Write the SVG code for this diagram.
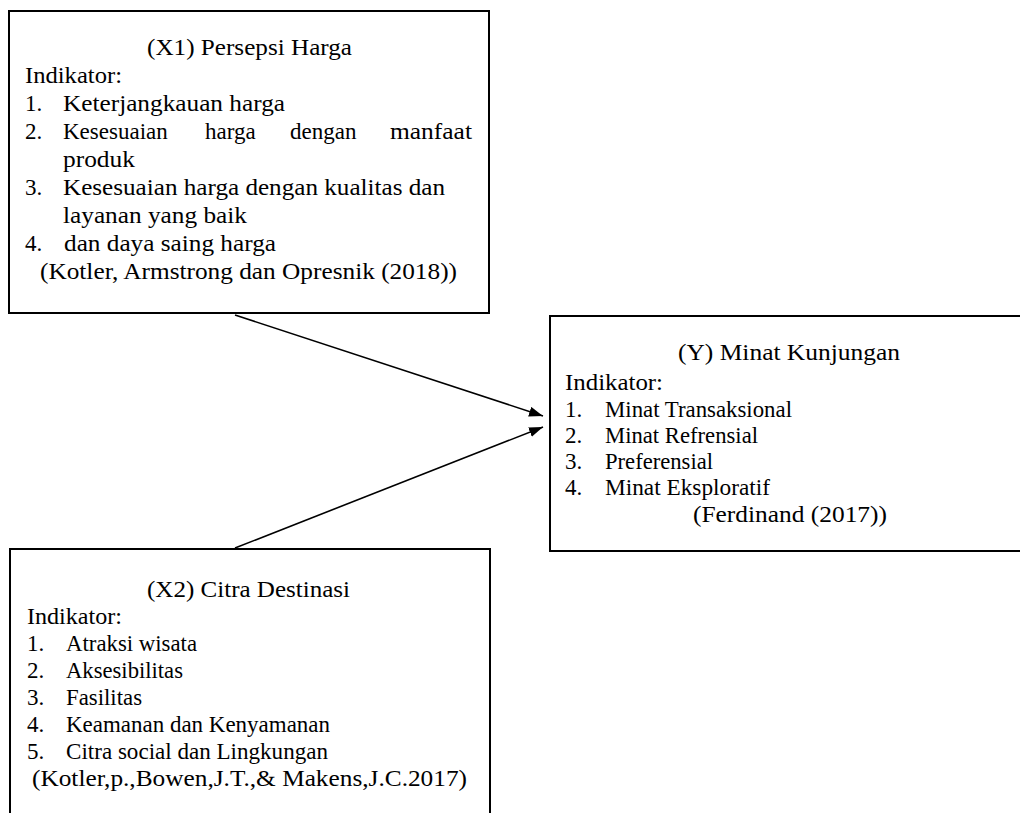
<svg xmlns="http://www.w3.org/2000/svg" width="1020" height="813" viewBox="0 0 1020 813" font-family="Liberation Serif, DejaVu Serif, Times New Roman, serif">
<style>
.box{fill:#fff;stroke:#000;stroke-width:2}
text{font-family:'Liberation Serif','DejaVu Serif','Times New Roman',serif;font-size:23px;fill:#000}
.ln{stroke:#000;stroke-width:1.6;fill:none}
</style>
<defs>
<marker id="ah" markerUnits="userSpaceOnUse" markerWidth="16" markerHeight="12" refX="14" refY="5" orient="auto">
<path d="M0,0 L14,5 L0,10 Z" fill="#000"/>
</marker>
</defs>
<rect width="1020" height="813" fill="#fff"/>
<g id="connectors">
<line class="ln" x1="235" y1="315" x2="543" y2="416" marker-end="url(#ah)"/>
<line class="ln" x1="235" y1="548" x2="543" y2="427" marker-end="url(#ah)"/>
</g>
<g id="x1">
<rect class="box" x="9" y="11" width="480" height="302"/>
<text x="147" y="55" textLength="205" lengthAdjust="spacingAndGlyphs">(X1) Persepsi Harga</text>
<text x="25" y="83" textLength="97" lengthAdjust="spacingAndGlyphs">Indikator:</text>
<text x="25" y="111">1.</text>
<text x="63" y="111" textLength="222" lengthAdjust="spacingAndGlyphs">Keterjangkauan harga</text>
<text x="25" y="139">2.</text>
<text x="63" y="139">Kesesuaian</text>
<text x="205" y="139">harga</text>
<text x="290" y="139">dengan</text>
<text x="390" y="139" textLength="82" lengthAdjust="spacingAndGlyphs">manfaat</text>
<text x="63" y="167" textLength="72" lengthAdjust="spacingAndGlyphs">produk</text>
<text x="25" y="195">3.</text>
<text x="63" y="195" textLength="382" lengthAdjust="spacingAndGlyphs">Kesesuaian harga dengan kualitas dan</text>
<text x="63" y="223" textLength="184" lengthAdjust="spacingAndGlyphs">layanan yang baik</text>
<text x="25" y="251">4.</text>
<text x="64" y="251" textLength="212" lengthAdjust="spacingAndGlyphs">dan daya saing harga</text>
<text x="40" y="279" textLength="417" lengthAdjust="spacingAndGlyphs">(Kotler, Armstrong dan Opresnik (2018))</text>
</g>
<g id="x2">
<rect class="box" x="10" y="549" width="480" height="300"/>
<text x="147" y="597" textLength="203" lengthAdjust="spacingAndGlyphs">(X2) Citra Destinasi</text>
<text x="27" y="624" textLength="95" lengthAdjust="spacingAndGlyphs">Indikator:</text>
<text x="27" y="651">1.</text>
<text x="66" y="651" textLength="131" lengthAdjust="spacingAndGlyphs">Atraksi wisata</text>
<text x="27" y="678">2.</text>
<text x="66" y="678" textLength="117" lengthAdjust="spacingAndGlyphs">Aksesibilitas</text>
<text x="27" y="705">3.</text>
<text x="66" y="705" textLength="76" lengthAdjust="spacingAndGlyphs">Fasilitas</text>
<text x="27" y="732">4.</text>
<text x="66" y="732" textLength="264" lengthAdjust="spacingAndGlyphs">Keamanan dan Kenyamanan</text>
<text x="27" y="759">5.</text>
<text x="66" y="759" textLength="262" lengthAdjust="spacingAndGlyphs">Citra social dan Lingkungan</text>
<text x="32" y="786" textLength="435" lengthAdjust="spacingAndGlyphs">(Kotler,p.,Bowen,J.T.,&amp; Makens,J.C.2017)</text>
</g>
<g id="y">
<rect class="box" x="550" y="316" width="500" height="235"/>
<text x="678" y="360" textLength="222" lengthAdjust="spacingAndGlyphs">(Y) Minat Kunjungan</text>
<text x="565" y="390" textLength="98" lengthAdjust="spacingAndGlyphs">Indikator:</text>
<text x="565" y="417">1.</text>
<text x="605" y="417" textLength="187" lengthAdjust="spacingAndGlyphs">Minat Transaksional</text>
<text x="565" y="443">2.</text>
<text x="605" y="443" textLength="153" lengthAdjust="spacingAndGlyphs">Minat Refrensial</text>
<text x="565" y="469">3.</text>
<text x="605" y="469" textLength="108" lengthAdjust="spacingAndGlyphs">Preferensial</text>
<text x="565" y="495">4.</text>
<text x="605" y="495" textLength="165" lengthAdjust="spacingAndGlyphs">Minat Eksploratif</text>
<text x="693" y="522" textLength="194" lengthAdjust="spacingAndGlyphs">(Ferdinand (2017))</text>
</g>
</svg>
